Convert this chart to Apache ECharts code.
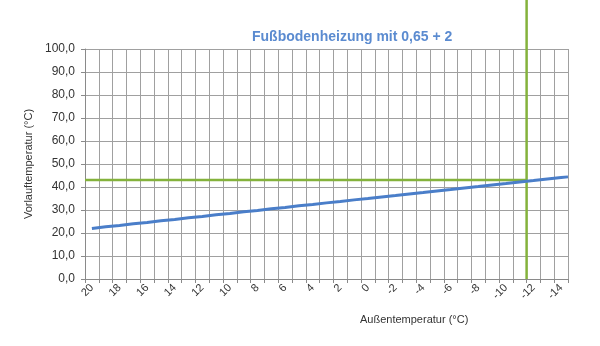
<!DOCTYPE html>
<html>
<head>
<meta charset="utf-8">
<script src="https://cdn.jsdelivr.net/npm/echarts@6/dist/echarts.min.js"></script>
<style>html,body{margin:0;padding:0;background:#fff}#c{width:600px;height:346px}</style>
</head>
<body>
<div id="c"></div>
<script>
// Außentemperatur categories (°C)
const categories = ['20','19','18','17','16','15','14','13','12','11','10','9','8','7','6','5','4','3','2','1','0','-1','-2','-3','-4','-5','-6','-7','-8','-9','-10','-11','-12','-13','-14'];
// Vorlauftemperatur values (°C)
const flowValues = [22.0,22.7,23.3,24.0,24.6,25.3,25.9,26.6,27.2,27.9,28.5,29.2,29.8,30.5,31.1,31.8,32.4,33.1,33.7,34.4,35.0,35.7,36.3,37.0,37.6,38.3,38.9,39.6,40.2,40.9,41.5,42.2,42.8,43.5,44.1];
// the curve visibly runs on to the right plot edge
const edgeOutdoor = -14.5;
const edgeFlow = 44.4;
// Design point guide lines
const designOutdoor = -11.5;
const designFlow = 43;
const guideTop = 125;
const yTicks = [0,10,20,30,40,50,60,70,80,90,100];

const chart = echarts.init(document.getElementById('c'), null, {renderer: 'canvas'});
const font = '"Liberation Sans", Arial, sans-serif';
const green = '#84b23c';
const gridColor = '#a0a0a0';

const curve = categories.map((c, i) => [Number(c), flowValues[i]]);
curve.push([edgeOutdoor, edgeFlow]);

chart.setOption({
  animation: false,
  backgroundColor: '#ffffff',
  title: {
    text: 'Fußbodenheizung mit 0,65 + 2',
    left: 247, top: 25,
    textStyle: {fontFamily: font, fontSize: 14, fontWeight: 'bold', color: '#5b8bd0'}
  },
  grid: {left: 85, right: 32, top: 49, bottom: 67},
  xAxis: [{
    type: 'category',
    data: categories,
    boundaryGap: true,
    axisLine: {lineStyle: {color: '#8a8a8a', width: 1}},
    axisTick: {show: true, interval: 0, length: 4, lineStyle: {color: '#8a8a8a'}},
    splitLine: {show: true, interval: 0, lineStyle: {color: gridColor, width: 1}},
    axisLabel: {interval: 1, rotate: 45, fontFamily: font, fontSize: 11, color: '#333', margin: 7}
  }, {
    type: 'value',
    inverse: true,
    min: -14.5, max: 20.5,
    show: false
  }],
  yAxis: {
    type: 'value',
    min: yTicks[0], max: yTicks[yTicks.length - 1], interval: 10,
    name: 'Vorlauftemperatur (°C)',
    nameLocation: 'middle', nameGap: 43,
    nameTextStyle: {fontFamily: font, fontSize: 11, color: '#333'},
    axisLine: {show: true, onZero: false, lineStyle: {color: '#8a8a8a', width: 1}},
    axisTick: {show: true, length: 4, lineStyle: {color: '#8a8a8a'}},
    splitLine: {show: true, lineStyle: {color: gridColor, width: 1}},
    axisLabel: {fontFamily: font, fontSize: 12, color: '#333', margin: 10,
      formatter: v => v.toFixed(1).replace('.', ',')}
  },
  series: [{
    type: 'line',
    xAxisIndex: 1,
    data: curve,
    symbol: 'none',
    lineStyle: {color: '#4a7ec9', width: 3},
    z: 3
  }, {
    type: 'line',
    xAxisIndex: 1,
    data: [[20.5, designFlow], [designOutdoor, designFlow]],
    symbol: 'none',
    lineStyle: {color: green, width: 2.5},
    z: 2
  }, {
    type: 'line',
    xAxisIndex: 1,
    clip: false,
    data: [[designOutdoor, 0], [designOutdoor, guideTop]],
    symbol: 'none',
    lineStyle: {color: green, width: 2.5},
    z: 2
  }],
  graphic: [{
    type: 'text',
    left: 360, top: 314,
    style: {text: 'Außentemperatur (°C)', fontFamily: font, fontSize: 11, fill: '#333'}
  }]
});
</script>
</body>
</html>
